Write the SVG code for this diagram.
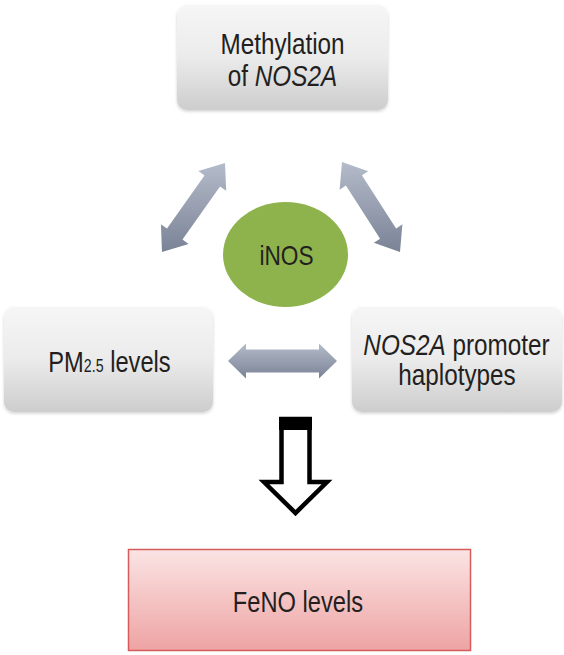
<svg xmlns="http://www.w3.org/2000/svg" width="564" height="655" viewBox="0 0 564 655">
  <defs>
    <linearGradient id="gBox" x1="0" y1="0" x2="0" y2="1">
      <stop offset="0" stop-color="#f6f6f6"/>
      <stop offset="0.5" stop-color="#ebebeb"/>
      <stop offset="1" stop-color="#cdcdcd"/>
    </linearGradient>
    <linearGradient id="gPink" x1="0" y1="0" x2="0" y2="1">
      <stop offset="0" stop-color="#fbe4e4"/>
      <stop offset="1" stop-color="#eea3a3"/>
    </linearGradient>
    <linearGradient id="gArrow" x1="0" y1="0" x2="0" y2="1">
      <stop offset="0" stop-color="#b4bbca"/>
      <stop offset="1" stop-color="#7a8396"/>
    </linearGradient>
    <filter id="shadow" x="-10%" y="-10%" width="120%" height="125%">
      <feDropShadow dx="0" dy="1.5" stdDeviation="1.5" flood-color="#000" flood-opacity="0.18"/>
    </filter>
  </defs>
  <style>
    .box { fill: url(#gBox); filter: url(#shadow); }
    .lbl { font-family: "Liberation Sans", Arial, sans-serif; font-size: 30px; fill: #231f20; text-anchor: middle; }
    .it { font-style: italic; }
    .arrow { fill: url(#gArrow); }
  </style>
  <rect width="564" height="655" fill="#ffffff"/>

  <g id="connectors">
    <polygon class="arrow" points="162,252 188.6,243.9 182.5,239.5 220,186.4 226.2,190.8 225,163 198.4,171.1 204.5,175.5 167,228.6 160.9,224.2"/>
    <polygon class="arrow" points="342,162 339.6,189.7 345.9,185.6 380.1,238.7 373.8,242.7 400,252 402.4,224.3 396.1,228.4 361.9,175.3 368.2,171.3"/>
    <polygon class="arrow" points="228,361 246,343.5 246,349.5 319,349.5 319,343.5 337,361 319,378.5 319,372.5 246,372.5 246,378.5"/>
    <g id="down-arrow">
      <polygon points="281.5,419 309.5,419 309.5,482 327,482 295.5,513 264,482 281.5,482" fill="#ffffff" stroke="#000000" stroke-width="4.5" stroke-linejoin="miter"/>
      <rect x="279" y="417" width="33" height="13" fill="#000000"/>
    </g>
  </g>

  <g id="node-methylation">
    <rect class="box" x="177" y="5" width="211" height="105" rx="10"/>
    <text class="lbl" transform="translate(282.5,54) scale(0.81,1)">Methylation</text>
    <text class="lbl" transform="translate(282.5,86) scale(0.81,1)">of <tspan class="it">NOS2A</tspan></text>
  </g>

  <g id="node-inos">
    <ellipse cx="285.5" cy="254.5" rx="62.5" ry="52.5" fill="#8eb34d"/>
    <text class="lbl" style="font-size:27px" transform="translate(286.5,265) scale(0.84,1)">iNOS</text>
  </g>

  <g id="node-pm25">
    <rect class="box" x="4" y="307" width="209" height="105" rx="10"/>
    <text class="lbl" transform="translate(109.5,372) scale(0.79,1)">PM<tspan style="font-size:18px">2.5</tspan> levels</text>
  </g>

  <g id="node-haplotypes">
    <rect class="box" x="352" y="307" width="210" height="105" rx="10"/>
    <text class="lbl" transform="translate(456.5,355) scale(0.81,1)"><tspan class="it">NOS2A</tspan> promoter</text>
    <text class="lbl" transform="translate(457,385) scale(0.81,1)">haplotypes</text>
  </g>

  <g id="node-feno">
    <rect x="128.5" y="549.5" width="342" height="101" fill="url(#gPink)" stroke="#d45c5c" stroke-width="1.5"/>
    <text class="lbl" transform="translate(298,612) scale(0.79,1)">FeNO levels</text>
  </g>
</svg>
